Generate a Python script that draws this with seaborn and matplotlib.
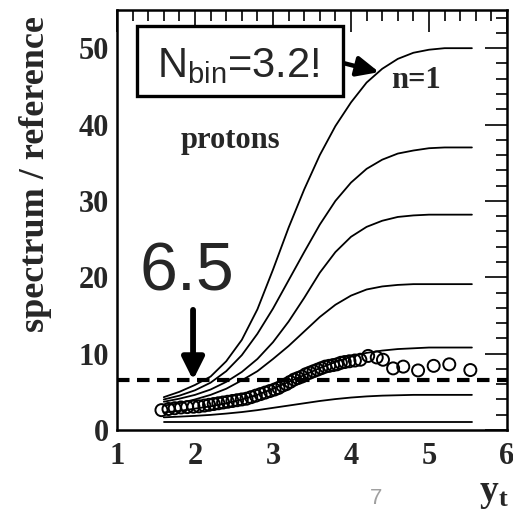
import numpy as np
import pandas as pd
import matplotlib
matplotlib.use("Agg")
import matplotlib.pyplot as plt
import seaborn as sns
from matplotlib.ticker import MultipleLocator
from matplotlib.patches import Rectangle

# ---------------- data ----------------
grid_x = [1.6, 1.8, 2.0, 2.2, 2.4, 2.6, 2.8, 3.0, 3.2, 3.4, 3.6, 3.8, 4.0,
          4.2, 4.4, 4.6, 4.8, 5.0, 5.2, 5.4, 5.55]
curve_n1 = [4.3, 5.0, 5.9, 7.0, 9.0, 11.8, 15.8, 21.0, 26.5, 31.5, 36.0, 39.8,
            42.9, 45.5, 47.3, 48.6, 49.4, 49.8, 50.0, 50.0, 50.0]
curve_n2 = [4.0, 4.5, 5.2, 6.2, 7.7, 9.8, 12.6, 15.9, 19.6, 23.3, 26.9, 30.0,
            32.4, 34.2, 35.4, 36.2, 36.6, 36.9, 37.0, 37.0, 37.0]
curve_n3 = [3.7, 4.1, 4.6, 5.3, 6.3, 7.6, 9.3, 11.5, 14.2, 17.3, 20.6, 23.3,
            25.3, 26.6, 27.4, 27.9, 28.1, 28.2, 28.2, 28.2, 28.2]
curve_n4 = [3.2, 3.5, 4.0, 4.6, 5.4, 6.5, 7.7, 9.3, 11.0, 12.9, 14.8, 16.4,
            17.6, 18.4, 18.8, 19.0, 19.1, 19.1, 19.1, 19.1, 19.1]
curve_n5 = [2.3, 2.5, 2.8, 3.1, 3.5, 4.0, 4.6, 5.4, 6.3, 7.2, 8.1, 8.9,
            9.6, 10.1, 10.4, 10.6, 10.7, 10.8, 10.8, 10.8, 10.8]
curve_n6 = [1.66, 1.75, 1.85, 1.98, 2.15, 2.35, 2.6, 2.9, 3.2, 3.5, 3.8, 4.05,
            4.25, 4.4, 4.5, 4.55, 4.6, 4.6, 4.6, 4.6, 4.6]
curve_n7 = [1.0] * 21

proton_x = [1.57, 1.66, 1.74, 1.82, 1.90, 1.98, 2.05, 2.12, 2.18, 2.24, 2.30,
            2.36, 2.42, 2.48, 2.54, 2.60, 2.66, 2.72, 2.78, 2.84, 2.90, 2.96,
            3.02, 3.07, 3.12, 3.17, 3.22, 3.27, 3.32, 3.37, 3.42, 3.47, 3.52,
            3.57, 3.62, 3.67, 3.72, 3.77, 3.82, 3.87, 3.92, 3.98, 4.05, 4.12,
            4.22, 4.33, 4.41, 4.54, 4.67, 4.86, 5.06, 5.26, 5.53]
proton_y = [2.6, 2.75, 2.85, 2.95, 3.0, 3.05, 3.1, 3.2, 3.3, 3.4, 3.5,
            3.6, 3.7, 3.8, 3.9, 4.0, 4.1, 4.3, 4.5, 4.7, 4.9, 5.1,
            5.3, 5.5, 5.8, 6.0, 6.3, 6.6, 6.8, 7.0, 7.3, 7.5, 7.7,
            7.9, 8.1, 8.3, 8.4, 8.5, 8.6, 8.8, 8.9, 9.0, 9.1, 9.2,
            9.7, 9.5, 9.2, 8.07, 8.3, 7.8, 8.4, 8.6, 7.85]

reference_level = 6.5
x_ticks = [1, 2, 3, 4, 5, 6]
y_ticks = [0, 10, 20, 30, 40, 50]

# ---------------- build frames ----------------
curves = {"n1": curve_n1, "n2": curve_n2, "n3": curve_n3, "n4": curve_n4,
          "n5": curve_n5, "n6": curve_n6, "n7": curve_n7}
df_lines = pd.concat(
    [pd.DataFrame({"yt": grid_x, "ratio": v, "curve": k}) for k, v in curves.items()],
    ignore_index=True)
df_pts = pd.DataFrame({"yt": proton_x, "ratio": proton_y})

# ---------------- figure ----------------
sns.set_theme(style="white")
plt.rcParams["font.family"] = ["Liberation Serif", "DejaVu Serif"]
plt.rcParams["mathtext.fontset"] = "custom"
plt.rcParams["mathtext.rm"] = "Liberation Sans"
plt.rcParams["mathtext.bf"] = "Liberation Serif:bold"

fig = plt.figure(figsize=(5.13, 5.13), dpi=100)
ax = fig.add_axes([117 / 513, 83 / 513, 390 / 513, 420 / 513])

sns.lineplot(data=df_lines, x="yt", y="ratio", units="curve", estimator=None,
             color="black", lw=1.3, ax=ax, legend=False)
ax.axhline(reference_level, color="black", lw=3.0, ls=(0, (3.0, 1.8)), zorder=3)
sns.scatterplot(data=df_pts, x="yt", y="ratio", ax=ax, s=75, marker="o",
                facecolor="none", edgecolor="black", linewidth=1.4, zorder=4,
                legend=False)

ax.set_xlim(1, 6)
ax.set_ylim(0, 55)
ax.set_xticks(x_ticks)
ax.set_yticks(y_ticks)
ax.xaxis.set_minor_locator(MultipleLocator(0.2))
ax.yaxis.set_minor_locator(MultipleLocator(2))
ax.tick_params(which="both", direction="in", top=True, right=True,
               color="black", width=1.2)
ax.tick_params(which="major", length=16)
ax.tick_params(which="minor", length=8)
ax.tick_params(axis="y", labelright=False, pad=6)
ax.tick_params(axis="x", pad=9)
for lab in ax.get_xticklabels() + ax.get_yticklabels():
    lab.set_fontsize(22)
    lab.set_fontweight("bold")
for sp in ax.spines.values():
    sp.set_linewidth(1.8)
    sp.set_color("black")
ax.set_xlabel("")
ax.set_ylabel("")

# axis titles
fig.text(36 / 513, 1 - 174 / 513, "spectrum / reference", rotation=90,
         ha="center", va="center", fontsize=26, fontweight="bold")
fig.text(494 / 513, 1 - 494 / 513, r"$\mathbf{y_t}$", ha="center", va="center",
         fontsize=27)
fig.text(376 / 513, 1 - 499 / 513, "7", ha="center", va="center",
         fontsize=16, color="#a0a0a0", family="Liberation Sans")

# annotations
ax.add_patch(Rectangle((0.051, 0.795), 0.528, 0.167, transform=ax.transAxes,
                       fc="white", ec="black", lw=2.4, zorder=5))
ax.text(0.310, 0.841, r"N$_{\rm bin}$=3.2!", transform=ax.transAxes,
        ha="center", va="baseline", fontsize=30, family="Liberation Sans",
        zorder=6)
ax.annotate("", xy=(0.672, 0.852), xytext=(0.579, 0.874),
            xycoords="axes fraction", textcoords="axes fraction",
            arrowprops=dict(arrowstyle="-|>,head_length=1.1,head_width=0.5",
                            color="black", lw=3.2, shrinkA=0, shrinkB=0))
ax.text(0.767, 0.833, "n=1", transform=ax.transAxes, ha="center", va="center",
        fontsize=22, fontweight="bold")
ax.text(0.292, 0.69, "protons", transform=ax.transAxes, ha="center",
        va="center", fontsize=22, fontweight="bold")
ax.text(0.179, 0.333, "6.5", transform=ax.transAxes, ha="center",
        va="baseline", fontsize=49, family="Liberation Sans")
ax.annotate("", xy=(0.195, 0.119), xytext=(0.195, 0.286),
            xycoords="axes fraction", textcoords="axes fraction",
            arrowprops=dict(arrowstyle="-|>,head_length=1.1,head_width=0.55",
                            color="black", lw=4.2, shrinkA=0, shrinkB=0))

fig.savefig("out.png", dpi=100)
